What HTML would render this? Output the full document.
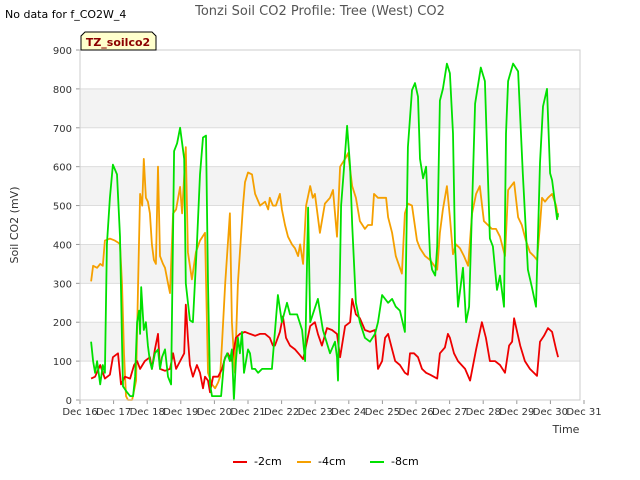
<!DOCTYPE html>
<html><head><meta charset="utf-8"><style>
body{margin:0;background:#fff;font-family:"Liberation Sans","DejaVu Sans",sans-serif}
svg{display:block}
</style></head><body>
<svg id="chart" width="640" height="480" viewBox="0 0 640 480" xmlns="http://www.w3.org/2000/svg" font-family="DejaVu Sans, Liberation Sans, sans-serif">
<text x="320" y="15" text-anchor="middle" font-size="13" fill="#555">Tonzi Soil CO2 Profile: Tree (West) CO2</text>
<text x="5" y="18" font-size="11" fill="#000">No data for f_CO2W_4</text>
<text x="18" y="225" font-size="11" fill="#333" text-anchor="middle" transform="rotate(-90 18 225)">Soil CO2 (mV)</text>
<text x="566" y="433" font-size="11" fill="#333" text-anchor="middle">Time</text>
<g id="grid"></g>
<g id="series"></g>
<g id="axes"></g>
<g>
<path d="M81,50 L81,36 L85,32 L152,32 L156,36 L156,50 Z" fill="#ffffcc" stroke="#000" stroke-width="1"/>
<text x="118" y="46" font-size="11" font-weight="bold" fill="#8b0000" text-anchor="middle">TZ_soilco2</text>
</g>
<g>
<g><line x1="233" y1="462" x2="247" y2="462" stroke="#e00" stroke-width="2"/><text x="254" y="465" font-size="11">-2cm</text></g>
<g><line x1="297" y1="462" x2="311" y2="462" stroke="#f5a000" stroke-width="2"/><text x="318" y="465" font-size="11">-4cm</text></g>
<g><line x1="370" y1="462" x2="384" y2="462" stroke="#00e000" stroke-width="2"/><text x="391" y="465" font-size="11">-8cm</text></g>
</g>
</svg>
<script>
const xTickLabels=["Dec 16","Dec 17","Dec 18","Dec 19","Dec 20","Dec 21","Dec 22","Dec 23","Dec 24","Dec 25","Dec 26","Dec 27","Dec 28","Dec 29","Dec 30","Dec 31"];
const yTicks=[0,100,200,300,400,500,600,700,800,900];
const red2cm=[[.33,55],[.45,60],[.60,90],[.74,55],[.89,65],[.98,110],[1.13,120],[1.22,40],[1.34,60],[1.49,55],[1.61,90],[1.70,100],[1.79,80],[1.93,100],[2.08,110],[2.14,80],[2.23,130],[2.32,170],[2.38,80],[2.53,75],[2.68,80],[2.77,120],[2.86,80],[2.98,100],[3.10,120],[3.15,245],[3.21,160],[3.27,90],[3.36,60],[3.48,90],[3.57,70],[3.66,30],[3.72,60],[3.81,50],[3.87,20],[3.96,60],[4.11,60],[4.23,80],[4.32,110],[4.40,120],[4.52,100],[4.64,160],[4.76,170],[4.91,175],[5.06,170],[5.21,165],[5.36,170],[5.51,170],[5.65,160],[5.74,140],[5.80,140],[5.95,175],[6.04,215],[6.13,160],[6.25,140],[6.40,130],[6.55,115],[6.64,105],[6.73,140],[6.85,190],[6.99,200],[7.08,170],[7.20,140],[7.35,185],[7.50,180],[7.65,170],[7.74,110],[7.89,190],[8.04,200],[8.10,260],[8.21,220],[8.33,210],[8.48,180],[8.63,175],[8.78,180],[8.87,80],[8.99,100],[9.08,160],[9.17,170],[9.29,130],[9.38,100],[9.52,90],[9.67,70],[9.76,65],[9.82,120],[9.94,120],[10.06,110],[10.18,80],[10.30,70],[10.42,65],[10.63,55],[10.71,120],[10.86,135],[10.95,170],[11.01,160],[11.13,120],[11.25,100],[11.46,80],[11.61,50],[11.79,130],[11.96,200],[12.08,160],[12.20,100],[12.35,100],[12.50,90],[12.65,70],[12.77,140],[12.86,150],[12.92,210],[13.10,140],[13.24,100],[13.39,80],[13.60,62],[13.69,150],[13.81,165],[13.93,185],[14.05,175],[14.17,130],[14.23,110]];
const orange4cm=[[.33,305],[.39,345],[.51,340],[.60,350],[.68,345],[.74,410],[.89,415],[1.04,410],[1.13,405],[1.19,400],[1.25,300],[1.31,120],[1.37,10],[1.43,0],[1.55,0],[1.67,50],[1.73,300],[1.79,530],[1.85,500],[1.90,620],[1.96,520],[2.02,510],[2.08,480],[2.14,400],[2.20,360],[2.26,350],[2.32,600],[2.38,370],[2.47,350],[2.53,340],[2.62,300],[2.68,275],[2.77,480],[2.86,490],[2.98,548],[3.04,480],[3.15,650],[3.21,380],[3.33,310],[3.45,380],[3.57,410],[3.72,430],[3.81,70],[3.93,40],[4.02,30],[4.11,45],[4.17,60],[4.23,150],[4.32,300],[4.46,480],[4.52,200],[4.61,70],[4.70,300],[4.85,500],[4.91,560],[5.00,585],[5.12,580],[5.21,530],[5.36,500],[5.51,510],[5.60,490],[5.65,520],[5.74,500],[5.83,500],[5.95,530],[6.01,490],[6.10,450],[6.19,420],[6.31,400],[6.40,390],[6.49,370],[6.55,400],[6.64,350],[6.73,500],[6.85,550],[6.93,520],[6.99,530],[7.14,430],[7.29,505],[7.44,520],[7.53,540],[7.65,420],[7.74,600],[7.89,620],[7.98,635],[8.10,550],[8.21,520],[8.33,460],[8.48,440],[8.57,450],[8.69,450],[8.75,530],[8.87,520],[8.99,520],[9.11,520],[9.17,470],[9.29,430],[9.40,370],[9.58,325],[9.67,480],[9.76,505],[9.88,500],[10.03,410],[10.12,390],[10.27,370],[10.42,360],[10.63,335],[10.71,430],[10.80,490],[10.92,550],[11.01,470],[11.10,375],[11.19,400],[11.31,390],[11.43,370],[11.55,345],[11.67,480],[11.79,530],[11.90,550],[12.02,460],[12.14,450],[12.26,440],[12.38,440],[12.50,420],[12.65,370],[12.74,540],[12.92,560],[13.04,470],[13.15,450],[13.27,410],[13.39,380],[13.51,370],[13.60,360],[13.69,450],[13.75,520],[13.84,510],[13.93,520],[14.05,530],[14.17,500],[14.23,470]];
const green8cm=[[.33,150],[.39,100],[.45,70],[.51,100],[.60,40],[.68,90],[.74,70],[.80,400],[.89,520],[.98,605],[1.10,580],[1.19,420],[1.25,150],[1.28,35],[1.40,20],[1.49,10],[1.58,10],[1.64,60],[1.70,200],[1.76,230],[1.79,170],[1.82,290],[1.90,180],[1.96,200],[2.02,140],[2.08,100],[2.14,80],[2.23,120],[2.32,130],[2.38,80],[2.44,110],[2.53,130],[2.62,60],[2.71,40],[2.80,640],[2.89,660],[2.98,700],[3.10,620],[3.15,300],[3.27,205],[3.36,200],[3.48,400],[3.57,580],[3.66,675],[3.75,680],[3.81,300],[3.87,40],[3.93,10],[4.20,10],[4.29,100],[4.38,120],[4.46,100],[4.52,130],[4.58,0],[4.64,100],[4.70,160],[4.76,120],[4.82,175],[4.88,70],[4.94,100],[5.00,130],[5.06,120],[5.12,80],[5.21,80],[5.30,70],[5.42,80],[5.54,80],[5.71,80],[5.89,270],[6.01,200],[6.16,250],[6.25,220],[6.46,220],[6.61,180],[6.70,100],[6.79,495],[6.85,200],[7.08,260],[7.23,180],[7.44,120],[7.59,150],[7.65,110],[7.68,50],[7.77,500],[7.86,600],[7.95,705],[8.04,600],[8.10,450],[8.21,250],[8.33,200],[8.48,160],[8.63,150],[8.78,170],[8.87,200],[8.99,270],[9.17,250],[9.29,260],[9.40,240],[9.52,230],[9.67,175],[9.76,650],[9.88,797],[9.97,815],[10.06,780],[10.12,620],[10.21,570],[10.30,600],[10.42,368],[10.48,335],[10.57,320],[10.63,395],[10.71,770],[10.80,800],[10.92,865],[11.01,840],[11.10,685],[11.16,400],[11.25,240],[11.40,340],[11.49,200],[11.58,240],[11.67,500],[11.76,762],[11.93,855],[12.05,820],[12.20,415],[12.29,395],[12.41,283],[12.50,320],[12.62,240],[12.68,685],[12.74,820],[12.89,865],[13.04,845],[13.18,583],[13.33,335],[13.45,290],[13.57,240],[13.69,610],[13.78,755],[13.90,800],[13.99,583],[14.05,565],[14.20,465],[14.23,480]];

const NS="http://www.w3.org/2000/svg";
const L=80,R=580,T=50,B=400,yMax=900,dayPx=33.6;
function xs(d){return L+d*dayPx;}
function ys(v){return B-(v/yMax)*(B-T);}
function mk(tag,attrs,parent){const e=document.createElementNS(NS,tag);for(const k in attrs)e.setAttribute(k,attrs[k]);parent.appendChild(e);return e;}
const grid=document.getElementById('grid'),axes=document.getElementById('axes'),ser=document.getElementById('series');
for(let i=0;i<yTicks.length-1;i++){
  if(i%2===1){const b=mk('rect',{x:L,y:ys(yTicks[i+1]),width:R-L,height:ys(yTicks[i])-ys(yTicks[i+1]),fill:'#f3f3f3'},grid);
  
  }
}
yTicks.forEach(v=>{
  const g=mk('line',{x1:L,x2:R,y1:ys(v),y2:ys(v),stroke:'#ddd','stroke-width':1},grid);
  
  
  const t=mk('text',{x:L-8,y:ys(v)+4,'text-anchor':'end','font-size':10,fill:'#333'},axes);
  
  
  t.textContent=v;
  mk('line',{x1:L-4,x2:L,y1:ys(v),y2:ys(v),stroke:'#999'},axes);
});
xTickLabels.forEach((lab,i)=>{
  const t=mk('text',{x:xs(i),y:415,'text-anchor':'middle','font-size':10,fill:'#333'},axes);
  
  
  t.textContent=lab;
  mk('line',{x1:xs(i),x2:xs(i),y1:B,y2:B+4,stroke:'#999'},axes);
});
const fr=mk('rect',{x:L,y:T,width:R-L,height:B-T,fill:'none',stroke:'#ccc'},axes);


function line(data,color,name){
  const p=mk('polyline',{points:data.map(d=>xs(d[0]).toFixed(1)+','+ys(d[1]).toFixed(1)).join(' '),fill:'none',stroke:color,'stroke-width':1.8,'stroke-linejoin':'round'},ser);
  
  
}
line(orange4cm,'#f5a000','series-4cm');
line(red2cm,'#e00','series-2cm');
line(green8cm,'#00e000','series-8cm');
</script>
</body></html>
